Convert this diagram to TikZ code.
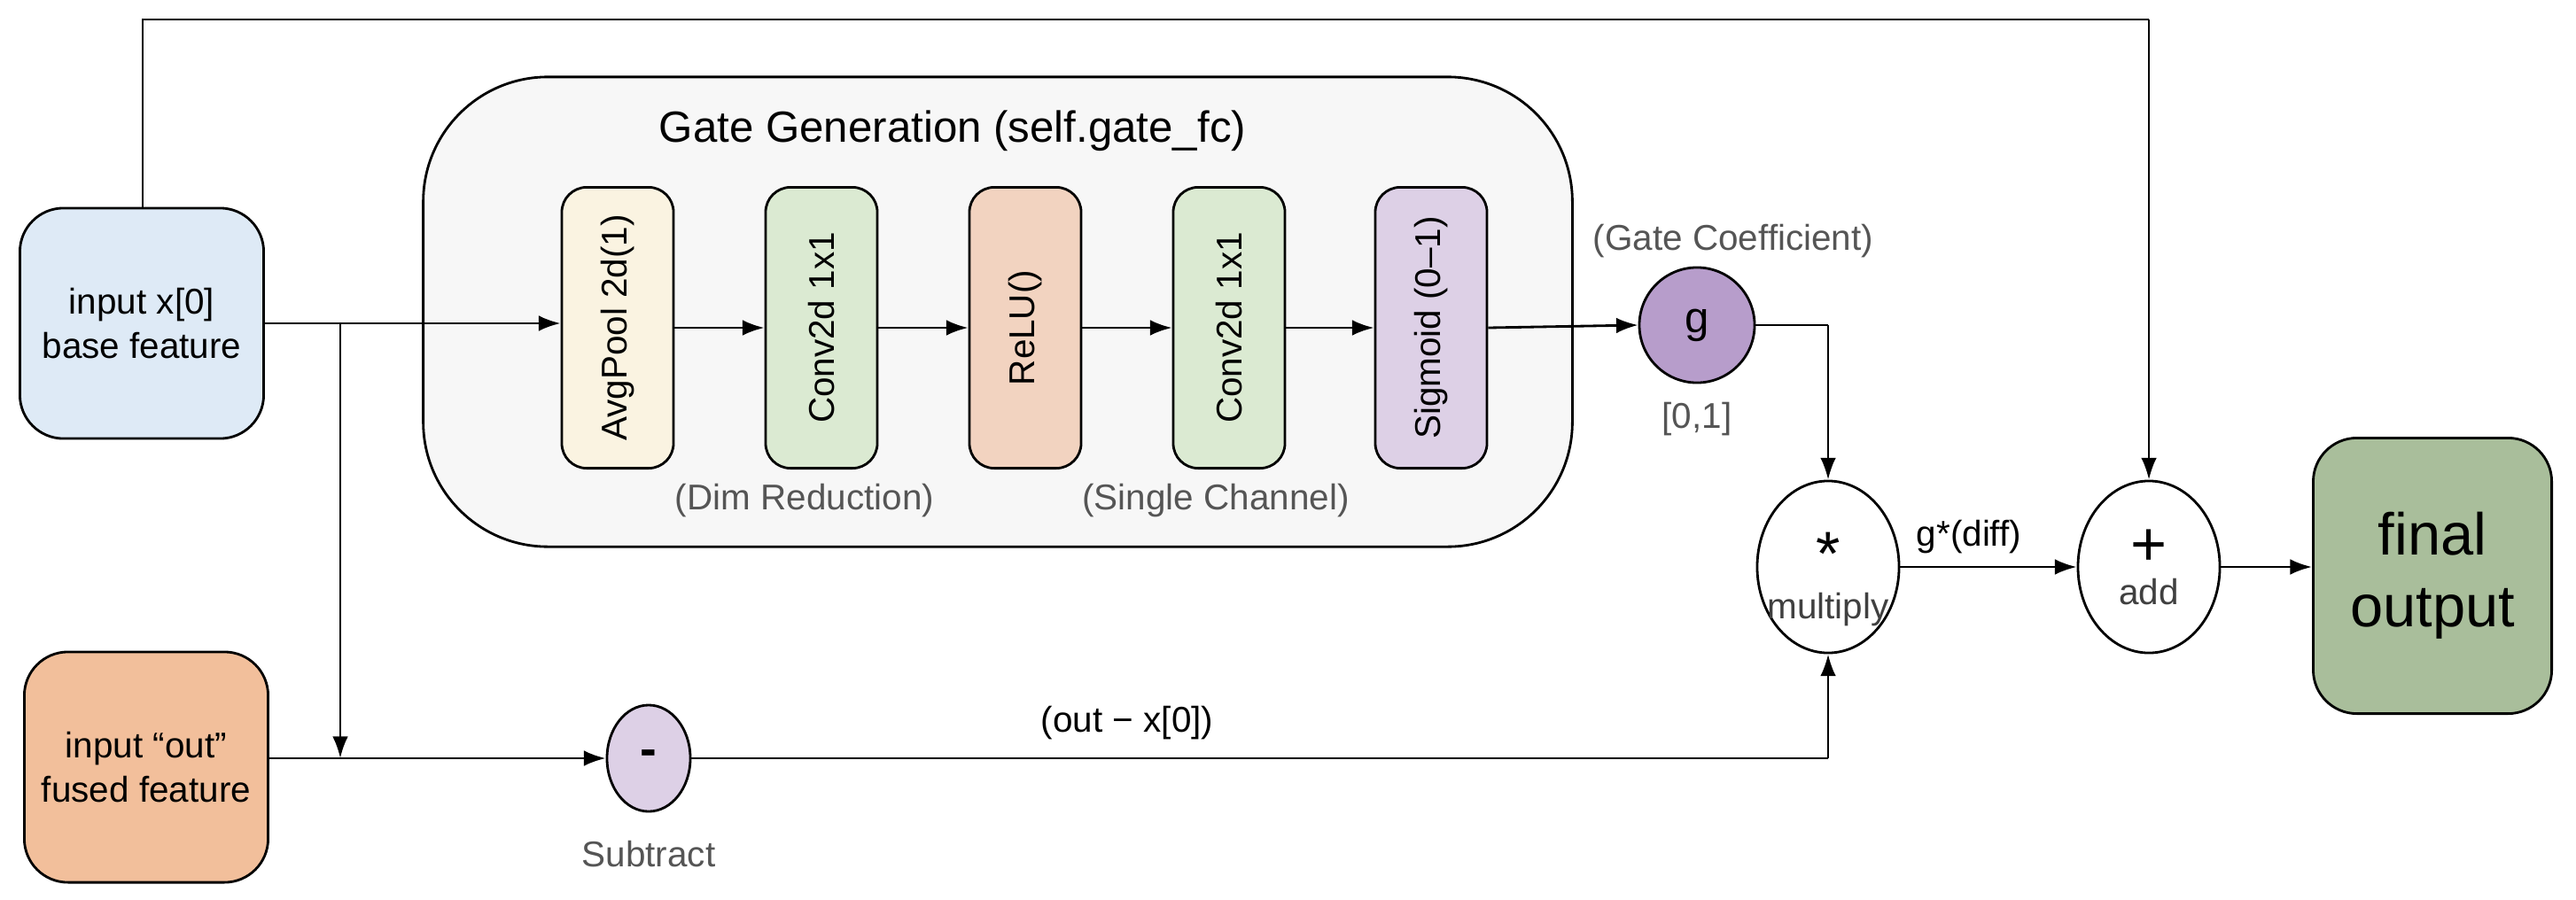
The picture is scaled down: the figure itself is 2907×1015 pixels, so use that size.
\documentclass[tikz,border=0pt]{standalone}
\usepackage{fontspec}
\setmainfont{Liberation Sans}
\usetikzlibrary{arrows.meta}
\definecolor{cblue}{HTML}{DEEAF6}
\definecolor{corange}{HTML}{F2BF9B}
\definecolor{cpanel}{HTML}{F7F7F7}
\definecolor{ccream}{HTML}{FAF3E1}
\definecolor{cgreen}{HTML}{DBEAD2}
\definecolor{cpeach}{HTML}{F2D3C0}
\definecolor{clav}{HTML}{DDD0E6}
\definecolor{cgpurple}{HTML}{B79DCB}
\definecolor{cfinal}{HTML}{A9BE9B}
\definecolor{cgraytext}{HTML}{555555}
\begin{document}
\begin{tikzpicture}[x=0.01cm,y=-0.01cm,
  inbox/.style={draw,thick,rounded corners=14pt,minimum width=2.75cm,minimum height=2.6cm,align=center,font=\fontsize{11.5}{14}\selectfont},
  layer/.style={draw,thick,rounded corners=8pt,minimum width=3.17cm,minimum height=1.26cm,rotate=90,font=\fontsize{11.5}{14}\selectfont},
  op/.style={draw,thick,ellipse,inner sep=0pt},
  arr/.style={thick,-{Latex[length=7pt,width=5pt]}},
  ln/.style={thick},
  note/.style={text=cgraytext,font=\fontsize{11.5}{14}\selectfont}]
\usetikzlibrary{shapes.geometric}
\useasboundingbox (0,0) rectangle (2907,1015);
\node[draw,thick,fill=cpanel,rounded corners=40pt,minimum width=12.96cm,minimum height=5.3cm] (panel) at (1126,352) {};
\node[font=\fontsize{14}{17}\selectfont] (title) at (1075,148) {Gate Generation (self.gate\_fc)};
\node[inbox,fill=cblue] (x0) at (160,365) {input x[0]\\base feature};
\node[inbox,fill=corange] (out) at (165,866) {input “out”\\fused feature};
\node[layer,fill=ccream] (l1) at (697,370) {AvgPool 2d(1)};
\node[layer,fill=cgreen] (l2) at (927,370) {Conv2d 1x1};
\node[layer,fill=cpeach] (l3) at (1157,370) {ReLU()};
\node[layer,fill=cgreen] (l4) at (1387,370) {Conv2d 1x1};
\node[layer,fill=clav] (l5) at (1615,370) {Sigmoid (0–1)};
\node[note] (dr) at (908,565) {(Dim Reduction)};
\node[note] (sc) at (1372,565) {(Single Channel)};
\node[op,fill=cgpurple,minimum width=1.3cm,minimum height=1.3cm,font=\fontsize{14}{17}\selectfont] (g) at (1915,367) {g};
\node[note] (gc) at (1956,272) {(Gate Coefficient)};
\node[note] (rng) at (1915,473) {[0,1]};
\node[op,fill=white,minimum width=1.6cm,minimum height=1.94cm] (mul) at (2063,640) {};
\node[font=\fontsize{20}{20}\selectfont] (mulsym) at (2063,625) {*};
\node[note,text=black!75] (multxt) at (2063,688) {multiply};
\node[op,fill=white,minimum width=1.6cm,minimum height=1.94cm] (add) at (2425,640) {};
\node[font=\fontsize{20}{20}\selectfont] (addsym) at (2425,618) {+};
\node[note,text=black!75] (addtxt) at (2425,668) {add};
\node[draw,thick,fill=cfinal,rounded corners=14pt,minimum width=2.69cm,minimum height=3.11cm,align=center,font=\fontsize{19}{23}\selectfont] (fin) at (2745,650) {final\\output};
\node[op,fill=clav,minimum width=0.94cm,minimum height=1.2cm,font=\bfseries\fontsize{16}{16}\selectfont] (sub) at (732,856) {-};
\node[note] (subtxt) at (732,964) {Subtract};
\node[font=\fontsize{11.5}{14}\selectfont] (diff) at (1272,816) {(out − x[0])};
\node[font=\fontsize{11.5}{14}\selectfont] (gd) at (2222,606) {g*(diff)};
\coordinate (br) at (384,365);
\coordinate (brd) at (384,856);
\coordinate (top1) at (161,22);
\coordinate (top2) at (2425,22);
\coordinate (gcorner) at (2063,367);
\coordinate (dcorner) at (2063,856);
% connectors
\draw[ln] (x0.north -| top1) -- (top1) -- (top2);
\draw[arr] (top2) -- (add.north);
\draw[ln] (x0.east |- br) -- (br);
\draw[arr] (br) -- (l1.north |- br);
\draw[arr] (br) -- (brd);
\draw[arr] (out.east |- sub) -- (sub.west);
\draw[arr] (l1.south) -- (l2.north);
\draw[arr] (l2.south) -- (l3.north);
\draw[arr] (l3.south) -- (l4.north);
\draw[arr] (l4.south) -- (l5.north);
\draw[arr] (l5.south) -- (g.west);
\draw[ln] (g.east) -- (gcorner);
\draw[arr] (gcorner) -- (mul.north);
\draw[ln] (sub.east) -- (dcorner);
\draw[arr] (dcorner) -- (mul.south);
\draw[arr] (mul.east) -- (add.west);
\draw[arr] (add.east) -- (fin.west |- add);
\end{tikzpicture}
\end{document}
